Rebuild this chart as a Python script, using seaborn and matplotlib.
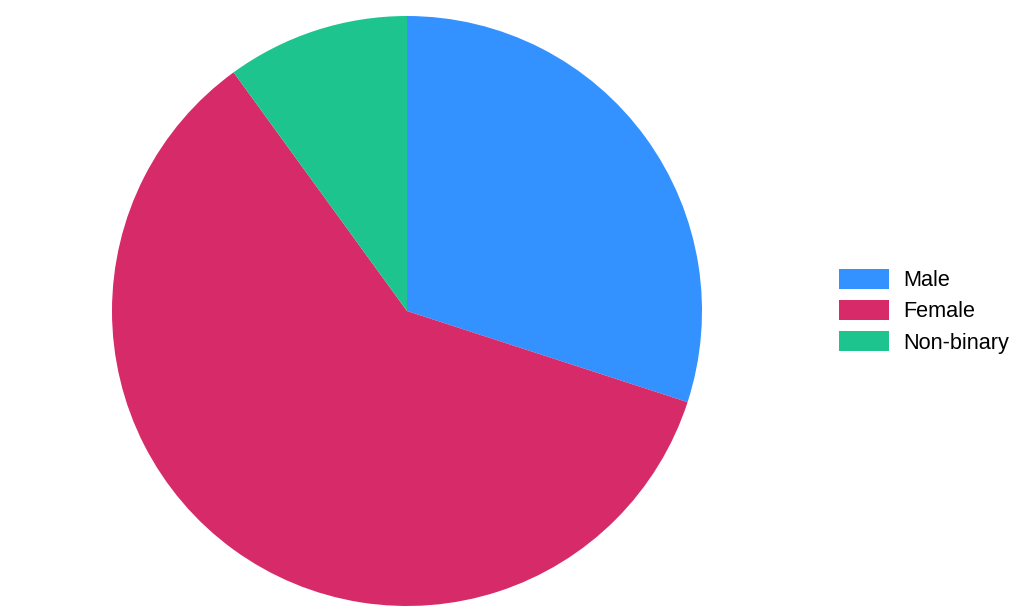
import matplotlib
matplotlib.use("Agg")
import matplotlib.pyplot as plt
import seaborn as sns
from matplotlib.patches import Patch

sns.set_theme(style="white")
plt.rcParams['font.family'] = ['Liberation Sans', 'DejaVu Sans']
plt.rcParams['text.color'] = 'black'

categories = ["Male", "Female", "Non-binary"]
values = [30, 60, 10]
colors = ["#3392FF", "#D62A69", "#1DC48D"]

W, H = 1029, 615
fig = plt.figure(figsize=(W / 100, H / 100), dpi=100)
fig.patch.set_facecolor("white")
cx, cy, r = 407, 311, 295
ax = fig.add_axes([(cx - r) / W, (H - cy - r) / H, 2 * r / W, 2 * r / H])
ax.pie(values, colors=colors, startangle=90, counterclock=False, radius=1,
       wedgeprops=dict(linewidth=0))
ax.set_xlim(-1, 1)
ax.set_ylim(-1, 1)
ax.set_aspect("equal")
ax.axis("off")

fs = 15.6
px = fs * 100 / 72
handles = [Patch(facecolor=c, edgecolor="none", label=l) for c, l in zip(colors, categories)]
leg = fig.legend(handles=handles, loc="upper left", bbox_to_anchor=(839 / W, 1 - 269 / H),
                 frameon=False, fontsize=fs, handlelength=50 / px, handleheight=22 / px,
                 labelspacing=9 / px, handletextpad=14 / px, borderpad=0, borderaxespad=0)
for t in leg.get_texts():
    t.set_color("black")

fig.savefig("out.png", dpi=100, facecolor="white")
